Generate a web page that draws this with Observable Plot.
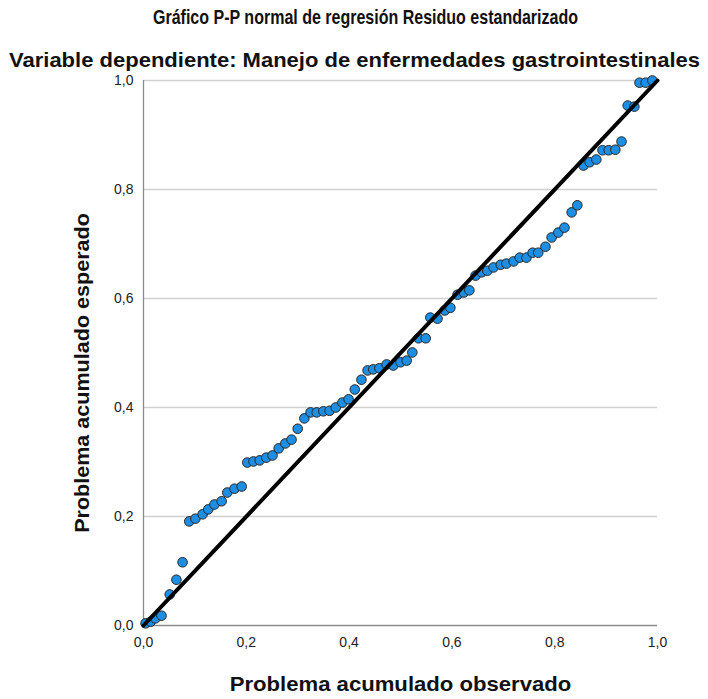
<!DOCTYPE html>
<html><head><meta charset="utf-8">
<script src="https://cdn.jsdelivr.net/npm/d3@7"></script>
<script src="https://cdn.jsdelivr.net/npm/@observablehq/plot@0.6"></script>
<style>
body{margin:0;background:#fff;font-family:"Liberation Sans",Arial,sans-serif}
#head{position:relative;width:708px;height:70px}
.t{position:absolute;white-space:nowrap;font-weight:bold;font-size:21px;line-height:1;transform-origin:0 0;color:#111}
</style></head><body>
<div id="head"><div class="t" id="t1"></div><div class="t" id="t2"></div></div>
<div id="chart"></div>
<script>
const title = "Gráfico P-P normal de regresión Residuo estandarizado";
const subtitle = "Variable dependiente: Manejo de enfermedades gastrointestinales";
const xLabel = "Problema acumulado observado";
const yLabel = "Problema acumulado esperado";
const tickValues = [0, 0.2, 0.4, 0.6, 0.8, 1.0];
const tickLabels = ["0,0", "0,2", "0,4", "0,6", "0,8", "1,0"];
const refLine = [0, 1];

const observed = [0.004,0.014,0.023,0.035,0.051,0.064,0.076,0.089,0.101,0.115,
0.126,0.138,0.152,0.163,0.177,0.191,0.202,0.214,0.226,0.239,
0.251,0.263,0.276,0.288,0.300,0.313,0.325,0.337,0.350,0.362,
0.374,0.387,0.399,0.411,0.424,0.436,0.447,0.459,0.473,0.486,
0.500,0.512,0.523,0.535,0.549,0.558,0.572,0.586,0.597,0.611,
0.623,0.634,0.646,0.658,0.669,0.681,0.695,0.706,0.720,0.732,
0.745,0.757,0.768,0.782,0.794,0.807,0.819,0.833,0.844,0.856,
0.868,0.881,0.893,0.905,0.918,0.930,0.942,0.955,0.965,0.977,0.990];
const expected = [0.004,0.007,0.013,0.018,0.057,0.084,0.116,0.191,0.196,0.204,
0.213,0.222,0.228,0.244,0.251,0.255,0.299,0.301,0.303,0.308,
0.312,0.325,0.334,0.341,0.361,0.380,0.391,0.391,0.393,0.394,
0.400,0.409,0.415,0.433,0.451,0.468,0.470,0.472,0.479,0.477,
0.483,0.486,0.501,0.527,0.527,0.565,0.563,0.578,0.583,0.607,
0.611,0.615,0.642,0.648,0.651,0.657,0.662,0.664,0.668,0.675,
0.675,0.684,0.684,0.695,0.712,0.721,0.730,0.758,0.771,0.844,
0.850,0.855,0.872,0.872,0.873,0.888,0.954,0.952,0.996,0.996,1.000];

const points = observed.map((x, i) => ({x, y: expected[i]}));
const diag = refLine.map(v => ({x: v, y: v}));
const fmt = d => tickLabels[tickValues.findIndex(t => Math.abs(t - d) < 1e-9)];

const t1 = document.getElementById("t1"), t2 = document.getElementById("t2");
t1.textContent = title; t2.textContent = subtitle;
function fit(el, left, top, w) {
  const nat = el.getBoundingClientRect().width;
  el.style.left = left + "px"; el.style.top = top + "px";
  el.style.transform = `scaleX(${w / nat})`;
}
fit(t1, 153, 6, 425);
fit(t2, 9, 49, 691);

const chart = Plot.plot({
  width: 708, height: 629,
  marginTop: 10, marginBottom: 74, marginLeft: 143, marginRight: 51,
  style: {fontFamily: "Liberation Sans, Arial, sans-serif", fontSize: "14px", color: "#222", background: "#fff"},
  x: {domain: [0, 1], ticks: tickValues, tickFormat: fmt, tickSize: 0, tickPadding: 12, label: null},
  y: {domain: [0, 1], ticks: tickValues, tickFormat: fmt, tickSize: 0, tickPadding: 10, label: null},
  marks: [
    Plot.ruleY(tickValues.slice(1), {stroke: "#d0d0d0", strokeWidth: 1.6}),
    Plot.ruleX([0], {stroke: "#8c8c8c", strokeWidth: 1.3}),
    Plot.ruleY([0], {stroke: "#8c8c8c", strokeWidth: 1.3}),
    Plot.dot(points, {x: "x", y: "y", r: 4.8, fill: "#1d8ee2", stroke: "#262626", strokeWidth: 1}),
    Plot.line(diag, {x: "x", y: "y", stroke: "#000", strokeWidth: 4}),
    Plot.text([yLabel], {frameAnchor: "left", textAnchor: "middle", lineAnchor: "middle", text: d => d, rotate: -90, dx: -61, dy: 20, fontSize: 20, fontWeight: "bold", fill: "#111"}),
    Plot.text([xLabel], {frameAnchor: "bottom", textAnchor: "middle", lineAnchor: "middle", text: d => d, dy: 59, fontSize: 20, fontWeight: "bold", fill: "#111"})
  ]
});
document.getElementById("chart").appendChild(chart);
chart.querySelectorAll("text").forEach(t => {
  let target = null;
  if (t.textContent === xLabel) target = 342;
  if (t.textContent === yLabel) target = 320;
  if (target) {
    const nat = t.getComputedTextLength();
    const tr = t.getAttribute("transform") || "";
    t.setAttribute("transform", `${tr} scale(${target / nat},1)`);
  }
});
</script>
</body></html>
